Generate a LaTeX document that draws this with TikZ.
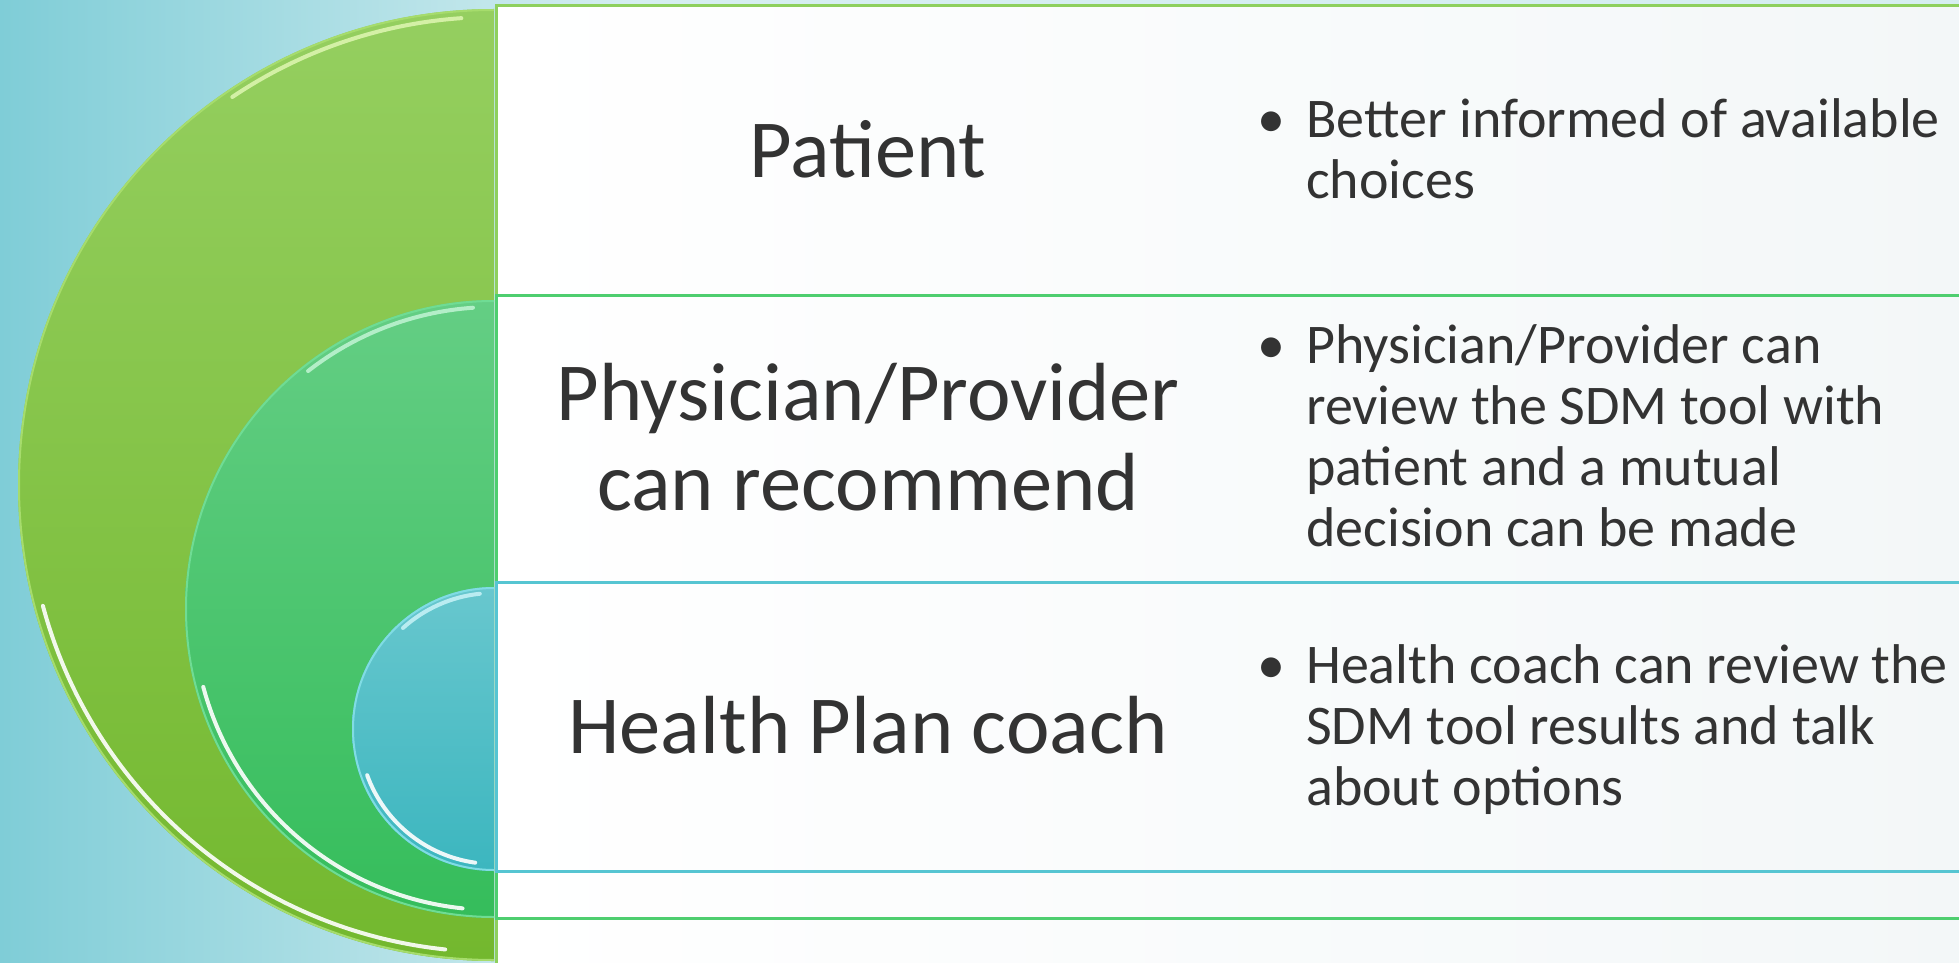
\documentclass[tikz,border=0pt]{standalone}
\usepackage{fontspec}
\setmainfont{Carlito}
\definecolor{bgL}{HTML}{7FCDD7}
\definecolor{bgR}{HTML}{D6EEF1}
\definecolor{gAt}{HTML}{95CF60}
\definecolor{gAb}{HTML}{73B82E}
\definecolor{gBt}{HTML}{64CE84}
\definecolor{gBb}{HTML}{35BD5B}
\definecolor{gCt}{HTML}{68C7CE}
\definecolor{gCb}{HTML}{3CB6BF}
\definecolor{lnA}{HTML}{8ED05E}
\definecolor{lnB}{HTML}{4ECE6F}
\definecolor{lnC}{HTML}{56C5D2}
\definecolor{rimA}{HTML}{A6DC6C}
\definecolor{rimB}{HTML}{6FDC94}
\definecolor{rimC}{HTML}{80DCE4}
\definecolor{hlA}{HTML}{E4F9B8}
\definecolor{hlB}{HTML}{C8F7DA}
\definecolor{hlC}{HTML}{CFF6FA}
\definecolor{txt}{HTML}{333333}
\definecolor{boxR}{HTML}{F3F7F8}
\begin{document}
\begin{tikzpicture}[x=1pt,y=-1pt,
  rowbox/.style={left color=white, right color=boxR},
  lbl/.style={text=txt, font=\fontsize{82.5}{90}\selectfont, align=center, inner sep=0pt},
  blt/.style={text=txt, font=\fontsize{56}{61}\selectfont, anchor=west, inner sep=0pt},
  gloss/.style={white, line width=4pt, opacity=0.9, line cap=round},
  toplight/.style={line width=4pt, opacity=0.8, line cap=round},
]
\useasboundingbox (0,0) rectangle (1959,963);
\clip (0,0) rectangle (1959,963);
% background
\fill[bgR] (0,0) rectangle (1959,963);
\shade[left color=bgL, right color=bgR] (0,0) rectangle (640,963);
% rows
\shade[rowbox] (496,6) rectangle (1980,990);
\draw[lnA, line width=3pt] (496,6) rectangle (1980,990);
\shade[rowbox] (496,295) rectangle (1980,918);
\draw[lnB, line width=3pt] (496,295) rectangle (1980,918);
\shade[rowbox] (496,582) rectangle (1980,871);
\draw[lnC, line width=3pt] (496,582) rectangle (1980,871);
% semicircles (y axis points down: user angle 90 = bottom, 270 = top)
\begin{scope}
  \clip (0,0) rectangle (494,963);
  \shade[top color=gAt, bottom color=gAb] (494,485) circle[radius=476];
  \draw[rimA, line width=2pt] (494,485) circle[radius=475];
  \draw[gloss] ({494+467*cos(96)},{485+467*sin(96)}) arc[start angle=96, end angle=165, radius=467];
  \draw[toplight, hlA] ({494+468*cos(266)},{485+468*sin(266)}) arc[start angle=266, end angle=236, radius=468];
  \shade[top color=gBt, bottom color=gBb] (494,609) circle[radius=309];
  \draw[rimB, line width=2pt] (494,609) circle[radius=308];
  \draw[gloss] ({494+301*cos(96)},{609+301*sin(96)}) arc[start angle=96, end angle=165, radius=301];
  \draw[toplight, hlB] ({494+302*cos(266)},{609+302*sin(266)}) arc[start angle=266, end angle=232, radius=302];
  \shade[top color=gCt, bottom color=gCb] (494,729) circle[radius=142];
  \draw[rimC, line width=2pt] (494,729) circle[radius=141];
  \draw[gloss] ({494+135*cos(98)},{729+135*sin(98)}) arc[start angle=98, end angle=160, radius=135];
  \draw[toplight, hlC] ({494+136*cos(264)},{729+136*sin(264)}) arc[start angle=264, end angle=228, radius=136];
\end{scope}
% labels
\node[lbl] (pat) at (868,149) {Patient};
\node[lbl] (phy) at (868,437) {Physician/Provider\\can recommend};
\node[lbl] (hpc) at (868,725) {Health Plan coach};
% bullets
\node[blt] (bpat) at (1257,156) {\begin{tabular}{@{}l@{}l@{}}\makebox[49pt][l]{\textbullet}&Better informed of available\\&choices\end{tabular}};
\node[blt] (bphy) at (1257,443) {\begin{tabular}{@{}l@{}l@{}}\makebox[49pt][l]{\textbullet}&Physician/Provider can\\&review the SDM tool with\\&patient and a mutual\\&decision can be made\end{tabular}};
\node[blt] (bhpc) at (1257,732) {\begin{tabular}{@{}l@{}l@{}}\makebox[49pt][l]{\textbullet}&Health coach can review the\\&SDM tool results and talk\\&about options\end{tabular}};
\end{tikzpicture}
\end{document}
